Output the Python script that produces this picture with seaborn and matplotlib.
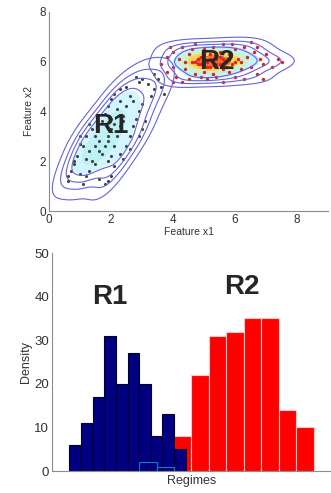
import numpy as np
import pandas as pd
import matplotlib
matplotlib.use("Agg")
import matplotlib.pyplot as plt
from matplotlib.colors import LinearSegmentedColormap
import seaborn as sns

# DATA - top panel: feature points of the two regimes

r1_x = [0.6, 0.6, 0.7, 0.8, 0.9, 0.8, 1.0, 1.1, 1.2, 1.3, 1.3, 1.4, 1.5, 1.6, 1.8, 1.9, 2.0, 2.1,
        1.7, 1.6, 1.5, 1.4, 1.3, 1.2, 1.1, 1.0, 1.0, 1.7, 1.8, 1.9, 2.0, 2.1, 2.3, 2.5, 2.8, 2.9,
        3.0, 2.6, 2.5, 2.4, 2.3, 2.2, 2.1, 2.0, 1.9, 2.3, 2.5, 2.6, 2.7, 2.8, 2.9, 3.0, 2.7, 2.2,
        2.0, 1.9, 1.8, 1.6, 2.4, 2.6, 2.9, 3.1, 3.0, 2.0, 2.3, 1.5, 1.2, 1.9, 2.1, 2.4,
        3.3, 3.4, 3.5, 3.6, 3.7, 3.4, 3.2]
r1_y = [1.2, 1.4, 1.6, 2.0, 2.2, 1.9, 1.5, 1.1, 1.4, 1.6, 2.4, 2.0, 1.9, 1.3, 1.1, 1.2, 1.4, 1.8,
        2.3, 2.8, 3.0, 3.3, 3.5, 3.0, 2.6, 2.7, 3.0, 3.6, 3.9, 4.2, 4.5, 4.7, 4.9, 5.0, 5.4, 5.2,
        5.3, 4.6, 4.2, 3.8, 3.4, 3.0, 2.6, 2.2, 2.0, 2.3, 2.6, 3.0, 3.4, 3.7, 4.0, 4.3, 4.4, 4.1,
        3.3, 3.0, 2.6, 2.4, 2.1, 2.5, 3.0, 3.6, 3.3, 3.7, 4.4, 2.6, 2.1, 2.8, 3.5, 3.6,
        4.6, 4.9, 5.3, 5.0, 4.7, 5.5, 5.1]

r2_x = [3.6, 3.8, 3.8, 4.0, 4.0, 4.1, 4.2, 4.3, 4.4, 4.5, 4.5, 4.6, 4.7, 4.7, 4.8, 4.9, 5.0, 5.0,
        5.1, 5.1, 5.2, 5.2, 5.3, 5.3, 5.4, 5.5, 5.5, 5.6, 5.6, 5.7, 5.8, 5.8, 5.9, 6.0, 6.0, 6.1,
        6.2, 6.3, 6.3, 6.4, 6.5, 6.6, 6.7, 6.8, 6.9, 7.0, 7.2, 7.4, 7.5, 6.9, 6.5, 4.3, 4.0, 3.9,
        4.9, 5.4, 4.6, 5.9, 6.7, 5.0, 5.2, 5.4, 4.8, 5.6, 5.3, 5.1, 5.7, 4.9, 5.5, 4.7, 6.0, 5.8,
        4.4, 6.2, 5.0, 5.6]
r2_y = [5.9, 5.6, 6.2, 5.8, 6.4, 5.4, 6.1, 6.6, 5.7, 5.3, 6.3, 6.0, 5.5, 6.7, 5.9, 6.2, 5.6, 6.5,
        5.3, 6.0, 5.8, 6.3, 6.6, 5.5, 6.1, 5.9, 6.4, 5.2, 6.7, 6.0, 5.6, 6.3, 5.9, 6.5, 5.4, 6.1,
        5.7, 6.6, 5.3, 6.2, 5.8, 6.4, 5.5, 6.1, 5.9, 6.3, 5.8, 6.1, 6.0, 5.3, 6.8, 5.2, 5.2, 6.6,
        5.4, 5.4, 6.5, 6.7, 6.6, 6.0, 6.1, 5.9, 6.1, 6.1, 6.0, 5.8, 5.8, 5.9, 6.2, 6.0, 6.0, 6.1,
        6.0, 6.0, 6.3, 5.7]

# DATA - bottom panel: histogram counts per bin

blue_edges = [1.5, 2.5, 3.5, 4.5, 5.5, 6.5, 7.5, 8.5, 9.5, 10.5, 11.5]
blue_counts = [6, 11, 17, 31, 20, 27, 20, 8, 13, 5]

red_edges = [10.5, 12.0, 13.5, 15.0, 16.5, 18.0, 19.5, 21.0, 22.5]
red_counts = [8, 22, 31, 32, 35, 35, 14, 10]

ghost_edges = [7.5, 9.0, 10.5]
ghost_counts = [2, 1]

# STYLE

sns.set_style("white")
plt.rcParams["font.family"] = ["Liberation Sans", "DejaVu Sans"]
grey = "#8c8c8c"
txt = "#333333"
ring = "#6464d6"

fig = plt.figure(figsize=(3.31, 4.93), dpi=100)
ax1 = fig.add_axes([0.148, 0.572, 0.843, 0.404])
ax2 = fig.add_axes([0.157, 0.0446, 0.843, 0.442])

# TOP PANEL - density per regime + scatter

heat = LinearSegmentedColormap.from_list(
    "heat", ["#d8f6ff", "#b0eeff", "#fff36a", "#ffa030", "#ff3020"])
cool = LinearSegmentedColormap.from_list(
    "cool", ["#e2f8ff", "#c4f2ff", "#b8f0e8"])

bw = 1.15
sns.kdeplot(x=r2_x, y=r2_y, fill=True, levels=[0.45, 0.62, 0.76, 0.88, 1.0],
            cmap=heat, bw_adjust=bw, ax=ax1)
sns.kdeplot(x=r1_x, y=r1_y, fill=True, levels=[0.55, 0.8, 1.0],
            cmap=cool, bw_adjust=bw, ax=ax1)
sns.kdeplot(x=r2_x, y=r2_y, levels=[0.08, 0.2, 0.33, 0.48],
            color=ring, linewidths=0.8, bw_adjust=bw, ax=ax1)
sns.kdeplot(x=r1_x, y=r1_y, levels=[0.08, 0.2, 0.33, 0.5],
            color=ring, linewidths=0.8, bw_adjust=bw, ax=ax1)

sns.scatterplot(x=r1_x, y=r1_y, color="#3c4444", s=5, linewidth=0, ax=ax1)
sns.scatterplot(x=r2_x, y=r2_y, color="#e02020", s=6, linewidth=0, ax=ax1)

ax1.text(2.0, 3.4, "R1", fontsize=20, fontweight="bold", ha="center", va="center")
ax1.text(5.4, 6.0, "R2", fontsize=20, fontweight="bold", ha="center", va="center")

ax1.set_xlim(0, 9)
ax1.set_ylim(0, 8)
ax1.set_xticks([0, 2, 4, 6, 8])
ax1.set_yticks([0, 2, 4, 6, 8])
ax1.set_xlabel("Feature x1", fontsize=7.5, color=txt, labelpad=1)
ax1.set_ylabel("Feature x2", fontsize=7.5, color=txt, labelpad=4)

# BOTTOM PANEL - regime histograms

def centers(edges):
    return [(a + b) / 2 for a, b in zip(edges[:-1], edges[1:])]

sns.histplot(x=centers(red_edges), weights=red_counts, bins=red_edges,
             color="#ff0000", edgecolor="#ffc8c8", linewidth=0.8, alpha=1, ax=ax2)
sns.histplot(x=centers(blue_edges), weights=blue_counts, bins=blue_edges,
             color="#000080", edgecolor="#000030", linewidth=0.8, alpha=1, ax=ax2)
sns.histplot(x=centers(ghost_edges), weights=ghost_counts, bins=ghost_edges,
             fill=False, edgecolor="#c8ccff", linewidth=0.8, ax=ax2)

ax2.text(5.0, 40, "R1", fontsize=20, fontweight="bold", ha="center", va="center")
ax2.text(16.3, 42.3, "R2", fontsize=20, fontweight="bold", ha="center", va="center")

ax2.set_xlim(0, 24)
ax2.set_ylim(0, 50)
ax2.set_xticks([])
ax2.set_yticks([0, 10, 20, 30, 40, 50])
ax2.set_xlabel("Regimes", fontsize=9, color=txt, labelpad=3)
ax2.set_ylabel("Density", fontsize=9, color=txt, labelpad=2)

for ax, fs in [(ax1, 8.5), (ax2, 9.5)]:
    sns.despine(ax=ax)
    ax.spines["left"].set_color(grey)
    ax.spines["bottom"].set_color(grey)
    ax.tick_params(direction="in", length=2.5, width=0.6, color=grey,
                   labelsize=fs, labelcolor=txt, pad=2)

fig.savefig("out.png", dpi=100)
